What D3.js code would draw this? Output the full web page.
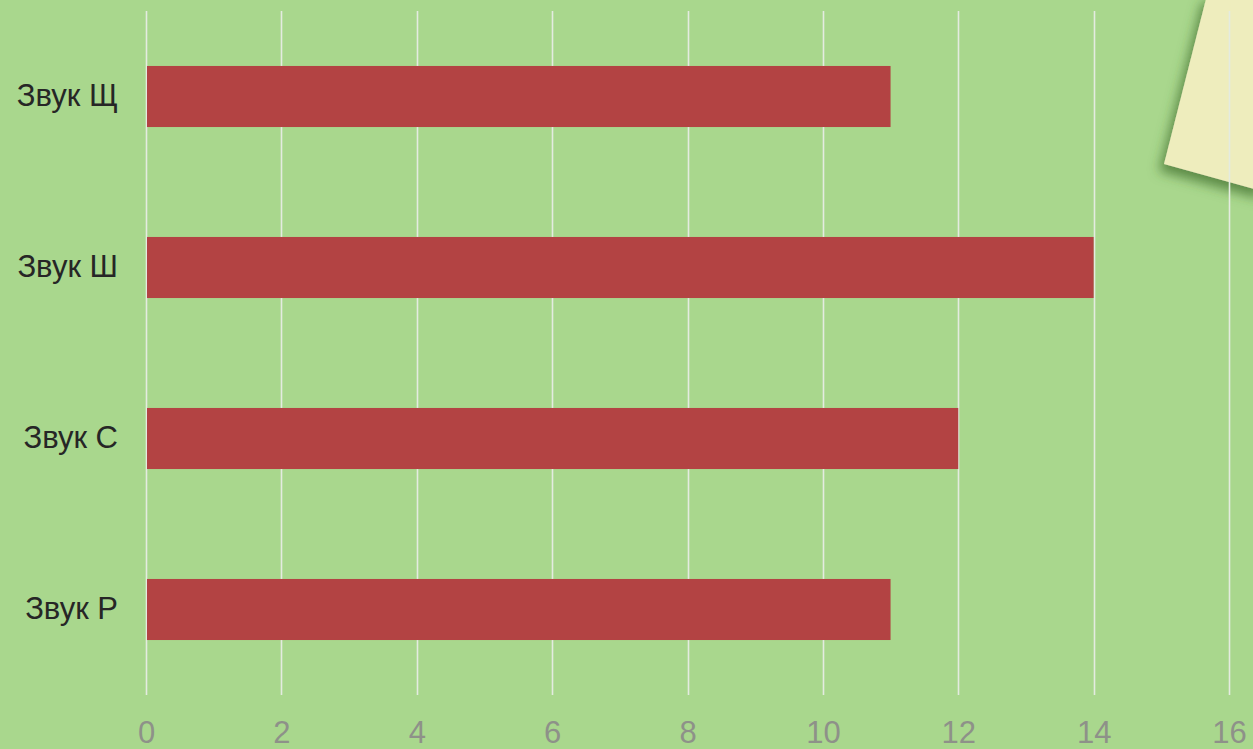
<!DOCTYPE html>
<html>
<head>
<meta charset="utf-8">
<script src="https://cdn.jsdelivr.net/npm/d3@7"></script>
<style>
  body { margin: 0; background: #a9d78d; }
  svg { display: block; }
</style>
</head>
<body>
<script>
var categories = ['Звук Щ', 'Звук Ш', 'Звук С', 'Звук Р'];
var values = [11, 14, 12, 11];
var tickValues = [0, 2, 4, 6, 8, 10, 12, 14, 16];

var svgWidth = 1253;
var svgHeight = 749;
var margin = { top: 11, right: 24, bottom: 54, left: 146 };

var svg = d3.select('body')
        .append('svg')
        .attr('width', svgWidth)
        .attr('height', svgHeight);

svg.append('rect')
        .attr('width', svgWidth)
        .attr('height', svgHeight)
        .attr('fill', '#a9d78d');

// sticky note in the corner
var defs = svg.append('defs');
var f = defs.append('filter').attr('id', 'shadow')
        .attr('x', '-30%').attr('y', '-30%').attr('width', '160%').attr('height', '160%');
f.append('feDropShadow')
        .attr('dx', -5).attr('dy', 7)
        .attr('stdDeviation', 6)
        .attr('flood-color', '#3d6b2a')
        .attr('flood-opacity', 0.7);

svg.append('polygon')
        .attr('points', '1207,-5 1265,-5 1265,192 1164,164')
        .attr('fill', '#eeedbd')
        .attr('filter', 'url(#shadow)');

var xScale = d3.scaleLinear()
        .domain([0, 16])
        .range([margin.left, svgWidth - margin.right]);

var yScale = d3.scaleBand()
        .domain(categories)
        .range([margin.top, svgHeight - margin.bottom])
        .paddingInner(0.643)
        .paddingOuter(0.3215);

// gridlines
svg.append('g')
        .selectAll('line')
        .data(tickValues)
        .enter()
        .append('line')
        .attr('x1', function (d) { return Math.round(xScale(d)) + 0.5; })
        .attr('x2', function (d) { return Math.round(xScale(d)) + 0.5; })
        .attr('y1', margin.top)
        .attr('y2', svgHeight - margin.bottom)
        .attr('stroke', '#e4ebe0')
        .attr('stroke-width', 1.6);

// bars
svg.selectAll('rect.bar')
        .data(values)
        .enter()
        .append('rect')
        .attr('class', 'bar')
        .attr('x', xScale(0) + 1)
        .attr('y', function (d, i) { return yScale(categories[i]); })
        .attr('width', function (d) { return xScale(d) - xScale(0) - 1; })
        .attr('height', yScale.bandwidth())
        .attr('fill', '#b34343');

// x axis labels
var xAxis = d3.axisBottom(xScale)
        .tickValues(tickValues)
        .tickSize(0)
        .tickPadding(26);

var gx = svg.append('g')
        .attr('transform', 'translate(0,' + (svgHeight - margin.bottom) + ')')
        .call(xAxis);
gx.select('.domain').remove();
gx.selectAll('text')
        .attr('fill', '#8e9189')
        .style('font-family', '"Liberation Sans", Arial, sans-serif')
        .style('font-size', '31px');

// y axis labels
var yAxis = d3.axisLeft(yScale)
        .tickSize(0)
        .tickPadding(28);

var gy = svg.append('g')
        .attr('transform', 'translate(' + margin.left + ',0)')
        .call(yAxis);
gy.select('.domain').remove();
gy.selectAll('text')
        .attr('fill', '#262626')
        .style('font-family', '"Liberation Sans", Arial, sans-serif')
        .style('font-size', '31px');
</script>
</body>
</html>
